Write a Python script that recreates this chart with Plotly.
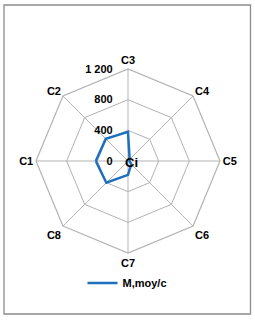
import plotly.graph_objects as go

categories = ["C1", "C2", "C3", "C4", "C5", "C6", "C7", "C8"]
values = [420, 410, 380, 30, 20, 60, 180, 400]
series_name = "M,moy/c"
tick_vals = [0, 400, 800, 1200]
tick_text = ["0", "400", "800", "1 200"]

W, H = 255, 321
cx, cy, R = 128, 161, 92

fig = go.Figure()
fig.add_trace(go.Scatterpolar(
    r=values + [values[0]],
    theta=categories + [categories[0]],
    mode="lines",
    name=series_name,
    line=dict(color="#1f6fbf", width=2.5),
))

font_b = "Liberation Sans, Arial, sans-serif"
grid_c = "#b3b3b3"
fig.update_layout(
    width=W, height=H,
    margin=dict(l=0, r=0, t=0, b=0),
    paper_bgcolor="white",
    plot_bgcolor="white",
    font=dict(family=font_b, size=11, color="black"),
    polar=dict(
        domain=dict(x=[(cx - R) / W, (cx + R) / W],
                    y=[(H - cy - R) / H, (H - cy + R) / H]),
        bgcolor="white",
        gridshape="linear",
        radialaxis=dict(
            range=[0, 1200],
            tickvals=tick_vals,
            ticktext=tick_text,
            angle=90,
            tickangle=90,
            side="counterclockwise",
            showline=False,
            gridcolor=grid_c,
            gridwidth=1.2,
            ticks="outside",
            ticklen=11,
            tickcolor="rgba(0,0,0,0)",
            tickfont=dict(family=font_b, size=11, color="black", weight="bold"),
        ),
        angularaxis=dict(
            rotation=180,
            direction="clockwise",
            linecolor=grid_c,
            linewidth=1.2,
            gridcolor=grid_c,
            gridwidth=1.2,
            ticks="",
            tickfont=dict(family=font_b, size=11, color="black", weight="bold"),
        ),
    ),
    showlegend=True,
    legend=dict(
        orientation="h",
        x=0.5, xanchor="center",
        y=(H - 283) / H, yanchor="middle",
        font=dict(family=font_b, size=11, color="black", weight="bold"),
        bgcolor="rgba(0,0,0,0)",
    ),
    shapes=[dict(
        type="rect", xref="paper", yref="paper",
        x0=4 / W, x1=250.5 / W, y0=(H - 314) / H, y1=(H - 5) / H,
        line=dict(color="#8c8c8c", width=1.3),
    )],
    annotations=[dict(
        text="<b>Ci</b>", xref="paper", yref="paper",
        x=131 / W, y=(H - 162) / H, xanchor="center", yanchor="middle",
        showarrow=False, font=dict(family=font_b, size=13, color="black"),
    )],
)

fig.write_html("out.html", config={"displayModeBar": False},
               post_script="document.body.style.margin='0';document.body.style.overflow='hidden';")
